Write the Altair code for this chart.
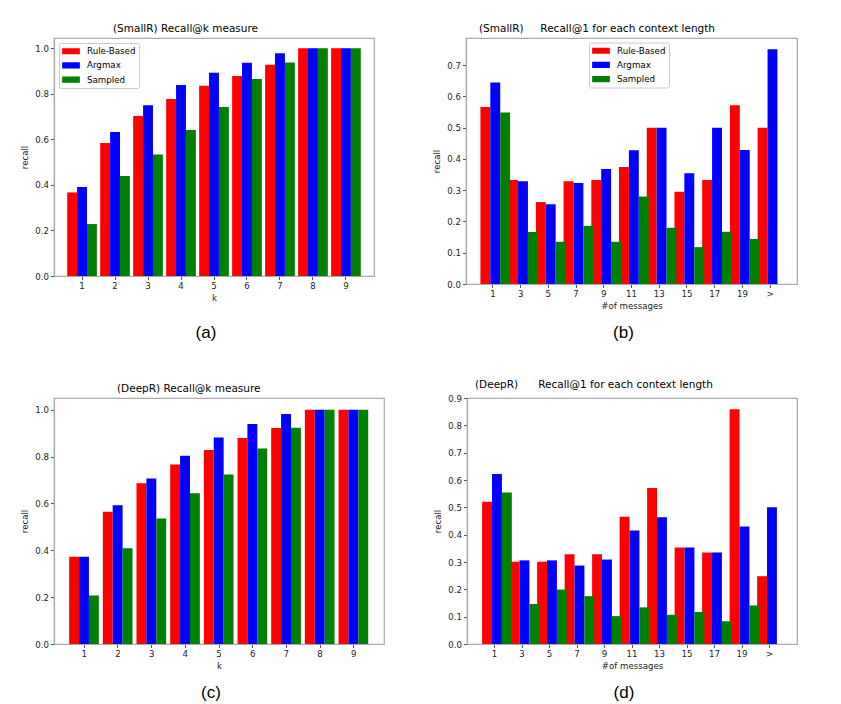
import altair as alt
import pandas as pd

series = ["Rule-Based", "Argmax", "Sampled"]
colors = ["#ff0000", "#0000ff", "#008000"]

cats_k = ["1", "2", "3", "4", "5", "6", "7", "8", "9"]
cats_len = ["1", "3", "5", "7", "9", "11", "13", "15", "17", "19", ">"]

# (a) SmallR Recall@k
smallr_k_rule = [0.367, 0.584, 0.703, 0.777, 0.835, 0.878, 0.927, 1.0, 1.0]
smallr_k_arg = [0.391, 0.632, 0.750, 0.839, 0.892, 0.936, 0.978, 1.0, 1.0]
smallr_k_samp = [0.228, 0.439, 0.534, 0.641, 0.742, 0.865, 0.937, 1.0, 1.0]

# (b) SmallR Recall@1 per context length
smallr_len_rule = [0.566, 0.333, 0.262, 0.329, 0.333, 0.374, 0.500, 0.295, 0.333, 0.572, 0.500]
smallr_len_arg = [0.645, 0.329, 0.255, 0.323, 0.368, 0.428, 0.500, 0.354, 0.500, 0.429, 0.751]
smallr_len_samp = [0.549, 0.166, 0.135, 0.186, 0.135, 0.280, 0.180, 0.118, 0.167, 0.144, None]

# (c) DeepR Recall@k
deepr_k_rule = [0.372, 0.564, 0.686, 0.766, 0.828, 0.879, 0.922, 1.0, 1.0]
deepr_k_arg = [0.372, 0.592, 0.706, 0.803, 0.881, 0.939, 0.982, 1.0, 1.0]
deepr_k_samp = [0.207, 0.409, 0.536, 0.643, 0.724, 0.834, 0.923, 1.0, 1.0]

# (d) DeepR Recall@1 per context length
deepr_len_rule = [0.520, 0.301, 0.301, 0.328, 0.328, 0.466, 0.571, 0.353, 0.335, 0.859, 0.248]
deepr_len_arg = [0.622, 0.306, 0.306, 0.287, 0.309, 0.415, 0.464, 0.353, 0.335, 0.430, 0.500]
deepr_len_samp = [0.554, 0.146, 0.199, 0.175, 0.102, 0.134, 0.107, 0.117, 0.083, 0.141, None]

NB = "\u00a0"


def panel(cats, rule, arg, samp, title, dx, xtitle, caption, width, height,
          ymax, yticks, pad_outer, legend):
    rows = []
    for vals, s in zip([rule, arg, samp], series):
        for c, v in zip(cats, vals):
            if v is not None:
                rows.append({"cat": c, "series": s, "value": v})
    df = pd.DataFrame(rows)

    bars = alt.Chart(df).mark_bar().encode(
        x=alt.X("cat:N", sort=cats,
                scale=alt.Scale(paddingInner=0.1, paddingOuter=pad_outer),
                axis=alt.Axis(title=xtitle, labelAngle=0, titlePadding=3)),
        xOffset=alt.XOffset("series:N", sort=series,
                            scale=alt.Scale(domain=series, paddingInner=0, paddingOuter=0)),
        y=alt.Y("value:Q",
                scale=alt.Scale(domain=[0, ymax], nice=False, zero=True),
                axis=alt.Axis(title="recall", values=yticks, format=".1f", titlePadding=5)),
        color=alt.Color("series:N", sort=series,
                        scale=alt.Scale(domain=series, range=colors),
                        legend=legend),
    )
    cap = alt.Chart(pd.DataFrame({"t": [caption]})).mark_text(
        font="Liberation Sans", fontSize=17, align="center", baseline="middle",
        color="black"
    ).encode(text="t:N", x=alt.value(width / 2 - 8), y=alt.value(295))

    return alt.layer(bars, cap).properties(
        width=width, height=height,
        title=alt.TitleParams(title, anchor="start", frame="group", dx=dx,
                              font="DejaVu Sans", fontSize=10.5, fontWeight="normal",
                              color="black", baseline="bottom", offset=-6),
    )


def leg(orient, x=None, y=None):
    kw = dict(title=None, orient=orient, offset=5,
              symbolType="M-1,-0.35H1V0.35H-1Z", symbolSize=313,
              symbolStrokeWidth=0, labelFont="DejaVu Sans", labelFontSize=8.7,
              labelColor="black", labelOffset=7, rowPadding=3.2, clipHeight=10.5,
              padding=3, strokeColor="#cccccc", fillColor="white", cornerRadius=2)
    if x is not None:
        kw["legendX"] = x
        kw["legendY"] = y
    return alt.Legend(**kw)


ya = [0, 0.2, 0.4, 0.6, 0.8, 1.0]
yb = [0, 0.1, 0.2, 0.3, 0.4, 0.5, 0.6, 0.7]
yd = [0, 0.1, 0.2, 0.3, 0.4, 0.5, 0.6, 0.7, 0.8, 0.9]

pa = panel(cats_k, smallr_k_rule, smallr_k_arg, smallr_k_samp,
           "(SmallR) Recall@k measure", 59, "k", "(a)", 320, 238, 1.045, ya, 0.4,
           leg("top-left"))
pb = panel(cats_len, smallr_len_rule, smallr_len_arg, smallr_len_samp,
           "(SmallR)" + NB * 5 + "Recall@1 for each context length", 13, "#of messages", "(b)",
           331, 246, 0.787, yb, 0.52, leg("none", 123, 4.5))
pc = panel(cats_k, deepr_k_rule, deepr_k_arg, deepr_k_samp,
           "(DeepR) Recall@k measure", 63, "k", "(c)", 330, 246, 1.05, ya, 0.45,
           leg("top-left"))
pd_ = panel(cats_len, deepr_len_rule, deepr_len_arg, deepr_len_samp,
            "(DeepR)" + NB * 6 + "Recall@1 for each context length", 8, "#of messages", "(d)",
            330, 246, 0.9, yd, 0.55, leg("top-left"))

top = alt.hconcat(pa, pb, spacing=57)
bottom = alt.hconcat(pc, pd_, spacing=48)

chart = alt.vconcat(top, bottom, spacing=36).properties(
    padding={"left": 12, "top": 14, "right": 5, "bottom": 5},
    background="white",
).configure_view(
    stroke="#aaaaaa", strokeWidth=1.2
).configure_axis(
    grid=False, domainColor="#aaaaaa", domainWidth=1.2,
    tickColor="#555555", tickSize=3.5, labelPadding=2,
    labelFont="DejaVu Sans", labelFontSize=8.6, labelColor="#222222",
    titleFont="DejaVu Sans", titleFontSize=8.6, titleFontWeight="normal",
    titleColor="#222222",
)

chart.save("out.html", embed_options={"renderer": "svg", "actions": False})
